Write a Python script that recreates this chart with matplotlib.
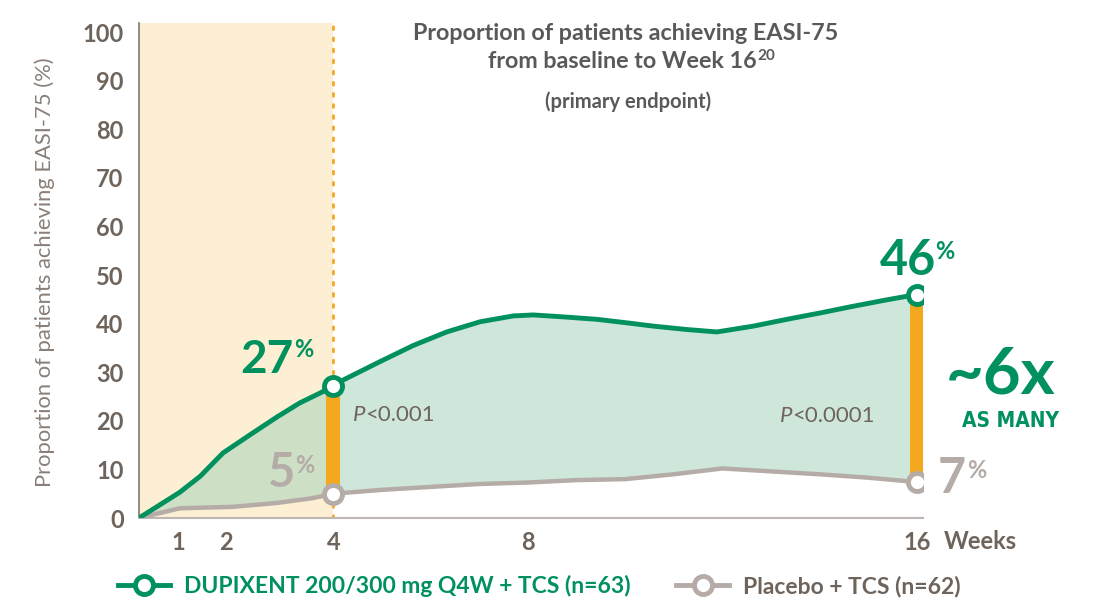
import matplotlib
matplotlib.use('Agg')
import matplotlib.pyplot as plt
from matplotlib.lines import Line2D

# ---------------- data ----------------
dup_weeks = [0, 0.84, 1.26, 1.73, 2.28, 2.84, 3.31, 3.72, 4, 4.2, 4.96, 5.64, 6.33, 7.02, 7.7, 8.11,
             8.73, 9.42, 10.1, 10.58, 11.27, 11.89, 12.64, 13.33, 14.01, 14.7, 15.38, 16]
dupixent = [0, 5.3, 8.6, 13.4, 17.1, 20.8, 23.7, 25.7, 27.2, 28.4, 32.2, 35.5, 38.3, 40.4, 41.6, 41.8,
            41.4, 40.9, 40.1, 39.5, 38.8, 38.3, 39.5, 40.9, 42.2, 43.6, 44.9, 46.0]
pbo_weeks = [0, 0.84, 1.93, 2.84, 3.58, 4, 5, 6, 7, 8, 9, 10, 11, 12, 13, 14, 15, 16]
placebo = [0, 2.0, 2.3, 3.1, 4.1, 5.0, 5.8, 6.4, 7.0, 7.3, 7.8, 8.0, 9.0, 10.2, 9.6, 9.0, 8.3, 7.4]
marker_weeks = [4, 16]
dup_labels = ['27', '46']
pbo_labels = ['5', '7']
p_values = ['<0.001', '<0.0001']
xtick_pos = [0.8, 1.8, 4, 8, 16]
xtick_labels = ['1', '2', '4', '8', '16']
yticks = list(range(0, 101, 10))
series_names = ['DUPIXENT 200/300 mg Q4W + TCS (n=63)', 'Placebo + TCS (n=62)']

# ---------------- style ----------------
GREEN = '#00915E'
GREY = '#B5ACA8'
BROWN = '#6E645C'
TITLE = '#58595B'
ORANGE = '#F4A81D'
YELLOW = '#FCEFD3'
FONT = 'Lato'

plt.rcParams['font.family'] = [FONT, 'DejaVu Sans']

W, H = 1102, 612
fig = plt.figure(figsize=(W / 100, H / 100), dpi=100)
ax = fig.add_axes([139 / W, 1 - 518 / H, (923 - 139) / W, (518 - 22.5) / H])
ax.set_xlim(0, 16.13)
ax.set_ylim(0, 102)

# shaded first-4-weeks region + dotted line
ax.axvspan(0, 4, color=YELLOW, zorder=0, lw=0)
ax.axvline(4, color='#F5A623', lw=2, ls=(0, (1, 3)), dash_capstyle='round', zorder=1)

# area between curves (polygon from both series)
poly_x = dup_weeks + pbo_weeks[::-1]
poly_y = dupixent + placebo[::-1]
ax.fill(poly_x, poly_y, color='#A3D2BA', alpha=0.52, lw=0, zorder=2)

# orange difference bars
top = [dupixent[dup_weeks.index(w)] for w in marker_weeks]
bot = [placebo[pbo_weeks.index(w)] for w in marker_weeks]
ax.bar(marker_weeks, [t - b for t, b in zip(top, bot)], bottom=bot, width=0.29,
       color=ORANGE, zorder=3, lw=0)

# lines
ax.plot(pbo_weeks, placebo, color=GREY, lw=3.2, zorder=4, solid_capstyle='round', solid_joinstyle='round')
ax.plot(dup_weeks, dupixent, color=GREEN, lw=3.5, zorder=5, solid_capstyle='round', solid_joinstyle='round')
ax.plot(marker_weeks, bot, ls='none', marker='o', ms=13, mfc='white', mec=GREY, mew=3.5, zorder=6)
ax.plot(marker_weeks, top, ls='none', marker='o', ms=13, mfc='white', mec=GREEN, mew=3.5, zorder=7)

# axes styling
for s in ['top', 'right']:
    ax.spines[s].set_visible(False)
ax.spines['left'].set_color('#8C827B')
ax.spines['left'].set_linewidth(1.3)
ax.spines['bottom'].set_color('#BDB6B2')
ax.spines['bottom'].set_linewidth(1.5)
ax.set_yticks(yticks)
ax.set_xticks(xtick_pos)
ax.set_xticklabels(xtick_labels)
ax.tick_params(axis='both', length=0, labelsize=17, labelcolor=BROWN)
ax.tick_params(axis='x', pad=9)
ax.tick_params(axis='y', pad=11)
for lab in ax.get_xticklabels() + ax.get_yticklabels():
    lab.set_fontweight('bold')
ax.text(17.3, -0.0475, 'Weeks', transform=ax.get_xaxis_transform(), ha='center', va='center',
        fontsize=17, fontweight='bold', color=BROWN)

# y label
fig.text(45 / W, 1 - 272 / H, 'Proportion of patients achieving EASI-75 (%)', rotation=90,
         ha='center', va='center', fontsize=15.8, color='#8A7F78')

# title
fig.text(626 / W, 1 - 40 / H, 'Proportion of patients achieving EASI-75', ha='center', va='baseline',
         fontsize=16.8, fontweight='bold', color=TITLE)
t2 = fig.text(622 / W, 1 - 68 / H, 'from baseline to Week 16', ha='center', va='baseline',
              fontsize=16.8, fontweight='bold', color=TITLE)
fig.canvas.draw()
bb = t2.get_window_extent()
fig.text((bb.x1 + 1) / W, 1 - 60 / H, '20', ha='left', va='baseline', fontsize=11, fontweight='bold',
         color=TITLE)
fig.text(628 / W, 1 - 108 / H, '(primary endpoint)', ha='center', va='baseline',
         fontsize=14.5, fontweight='bold', color=TITLE)

# big value annotations
ax.text(3.17, 29.8, dup_labels[0], ha='right', va='baseline', fontsize=33, fontweight='bold', color=GREEN)
ax.text(3.19, 33.1, '%', ha='left', va='baseline', fontsize=17, fontweight='bold', color=GREEN)
ax.text(3.21, 6.4, pbo_labels[0], ha='right', va='baseline', fontsize=34, fontweight='bold', color=GREY)
ax.text(3.22, 9.3, '%', ha='left', va='baseline', fontsize=17, fontweight='bold', color=GREY)
ax.text(16.4, 50.0, dup_labels[1], ha='right', va='baseline', fontsize=35, fontweight='bold', color=GREEN,
        clip_on=False)
ax.text(16.38, 53.3, '%', ha='left', va='baseline', fontsize=17, fontweight='bold', color=GREEN, clip_on=False)
ax.text(16.43, 5.1, pbo_labels[1], ha='left', va='baseline', fontsize=35, fontweight='bold', color=GREY,
        clip_on=False)
ax.text(17.04, 8.2, '%', ha='left', va='baseline', fontsize=17, fontweight='bold', color=GREY, clip_on=False)

# ~6x AS MANY
fig.text(1001 / W, 1 - 393 / H, '~6x', ha='center', va='baseline', fontsize=47, fontweight='bold', color=GREEN)
fig.text(1010 / W, 1 - 427 / H, 'AS MANY', ha='center', va='baseline', fontsize=15, fontweight='bold',
         color=GREEN, family=['DejaVu Sans Condensed', 'DejaVu Sans'], fontstretch='condensed')

# p-values
for xp, yp, txt in [(4.4, 20.0, p_values[0]), (13.19, 19.8, p_values[1])]:
    tp = ax.text(xp, yp, 'P', ha='left', va='baseline', fontsize=16, style='italic', color=BROWN)
    ax.annotate(txt, xy=(1, 0), xycoords=tp, ha='left', va='bottom', fontsize=16, color=BROWN)

# legend
handles = [
    Line2D([], [], color=GREEN, lw=3.5, marker='o', ms=13, mfc='white', mec=GREEN, mew=3.5),
    Line2D([], [], color=GREY, lw=3.5, marker='o', ms=13, mfc='white', mec=GREY, mew=3.5),
]
fig.legend(handles, series_names, loc='center', bbox_to_anchor=(539 / W, 1 - 586 / H), ncol=2,
           frameon=False, handlelength=2.3, handletextpad=0.6, columnspacing=2.0,
           prop={'family': FONT, 'weight': 'bold', 'size': 16.5}, labelcolor=[GREEN, BROWN])

fig.savefig('out.png', dpi=100)
